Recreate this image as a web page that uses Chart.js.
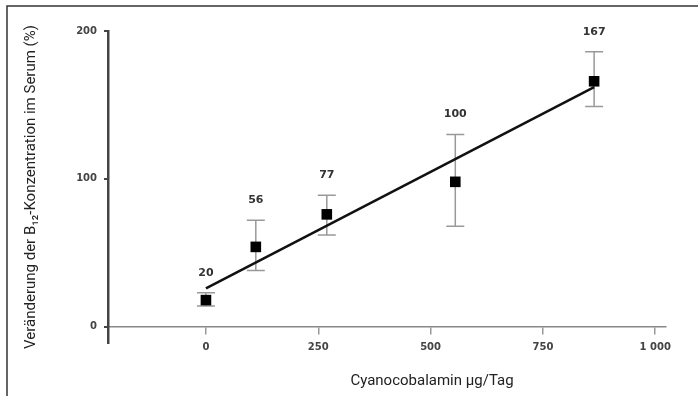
<!DOCTYPE html>
<html>
<head>
<meta charset="utf-8">
<script src="https://cdn.jsdelivr.net/npm/chart.js@4"></script>
<style>
  html, body { margin: 0; padding: 0; background: #fff; }
</style>
</head>
<body>
<canvas id="myChart" width="698" height="396"></canvas>
<script>
// dose (µg/Tag) and change of B12 concentration (%)
const doses = [0, 111, 269, 555, 864];
const changes = [18, 54, 76, 98, 166];
const errLow = [14, 38, 62, 68, 149];
const errHigh = [23, 72, 89, 130, 186];
const pointLabels = ["20", "56", "77", "100", "167"];

// regression line end points
const fitX = [0, 864];
const fitY = [26, 162];

const xTicks = [0, 250, 500, 750, 1000];
const xTickLabels = ["0", "250", "500", "750", "1 000"];
const yTicks = [0, 100, 200];

const condensed = "'Liberation Sans Narrow', 'Roboto', sans-serif";
const numFont = "'DejaVu Sans', sans-serif";

const frame = {
  id: "frame",
  beforeDraw(chart) {
    const ctx = chart.ctx;
    ctx.save();
    ctx.strokeStyle = "#333";
    ctx.lineWidth = 1.5;
    ctx.beginPath();
    ctx.moveTo(7, 396);
    ctx.lineTo(7, 6);
    ctx.lineTo(698, 6);
    ctx.stroke();
    ctx.restore();
  },
};

const errorBars = {
  id: "errorBars",
  beforeDatasetsDraw(chart) {
    const ctx = chart.ctx;
    const xs = chart.scales.x;
    const ys = chart.scales.y;
    ctx.save();
    ctx.strokeStyle = "#999";
    ctx.lineWidth = 1.5;
    doses.forEach((d, i) => {
      const px = xs.getPixelForValue(d);
      const lo = ys.getPixelForValue(errLow[i]);
      const hi = ys.getPixelForValue(errHigh[i]);
      ctx.beginPath();
      ctx.moveTo(px, lo);
      ctx.lineTo(px, hi);
      ctx.moveTo(px - 9, lo);
      ctx.lineTo(px + 9, lo);
      ctx.moveTo(px - 9, hi);
      ctx.lineTo(px + 9, hi);
      ctx.stroke();
    });
    ctx.restore();
  },
};

const valueLabels = {
  id: "valueLabels",
  afterDatasetsDraw(chart) {
    const ctx = chart.ctx;
    const xs = chart.scales.x;
    const ys = chart.scales.y;
    ctx.save();
    ctx.fillStyle = "#333";
    ctx.font = "bold 11px " + numFont;
    ctx.textAlign = "center";
    ctx.textBaseline = "middle";
    doses.forEach((d, i) => {
      ctx.fillText(pointLabels[i], xs.getPixelForValue(d), ys.getPixelForValue(errHigh[i]) - 20);
    });
    // x axis title
    ctx.fillStyle = "#222";
    ctx.font = "15px " + condensed;
    ctx.fillText("Cyanocobalamin µg/Tag", 432, 381);
    ctx.restore();
  },
};

const ctx = document.getElementById("myChart").getContext("2d");
const myChart = new Chart(ctx, {
  type: "scatter",
  data: {
    datasets: [
      {
        label: "Regression",
        data: fitX.map((x, i) => ({ x: x, y: fitY[i] })),
        showLine: true,
        borderColor: "#111",
        borderWidth: 2.5,
        pointRadius: 0,
        order: 2,
      },
      {
        label: "Veränderung",
        data: doses.map((x, i) => ({ x: x, y: changes[i] })),
        pointStyle: "rect",
        pointRadius: 7.5,
        backgroundColor: "#000",
        borderWidth: 0,
        order: 1,
      },
    ],
  },
  plugins: [frame, errorBars, valueLabels],
  options: {
    responsive: false,
    animation: false,
    layout: { padding: { left: 0, top: 31, right: 32, bottom: 53 } },
    plugins: {
      legend: { display: false },
      tooltip: { enabled: false },
    },
    scales: {
      x: {
        type: "linear",
        min: -218,
        max: 1024,
        position: { y: 0 },
        afterBuildTicks: (s) => {
          s.ticks = xTicks.map((v) => ({ value: v }));
        },
        afterFit: (s) => {
          s.height = 0;
        },
        border: { display: true, color: "#888", width: 1.5 },
        grid: { drawOnChartArea: false, drawTicks: true, tickLength: 7, color: "#999", lineWidth: 1.5 },
        ticks: {
          padding: 8,
          color: "#444",
          font: { family: numFont, size: 10, weight: "bold" },
          callback: (v, i) => xTickLabels[i],
        },
      },
      y: {
        type: "linear",
        min: -11,
        max: 200,
        position: "left",
        afterBuildTicks: (s) => {
          s.ticks = yTicks.map((v) => ({ value: v }));
        },
        afterFit: (s) => {
          s.width = 108;
        },
        border: { display: true, color: "#444", width: 2.5 },
        grid: { drawOnChartArea: false, drawTicks: true, tickLength: 4, color: "#444", lineWidth: 2 },
        ticks: {
          padding: 7,
          color: "#444",
          font: { family: numFont, size: 10, weight: "bold" },
        },
        title: {
          display: true,
          text: "Veränderung der B₁₂-Konzentration im Serum (%)",
          color: "#222",
          font: { family: condensed, size: 15 },
          padding: { top: 22, bottom: 0 },
        },
      },
    },
  },
});
</script>
</body>
</html>
